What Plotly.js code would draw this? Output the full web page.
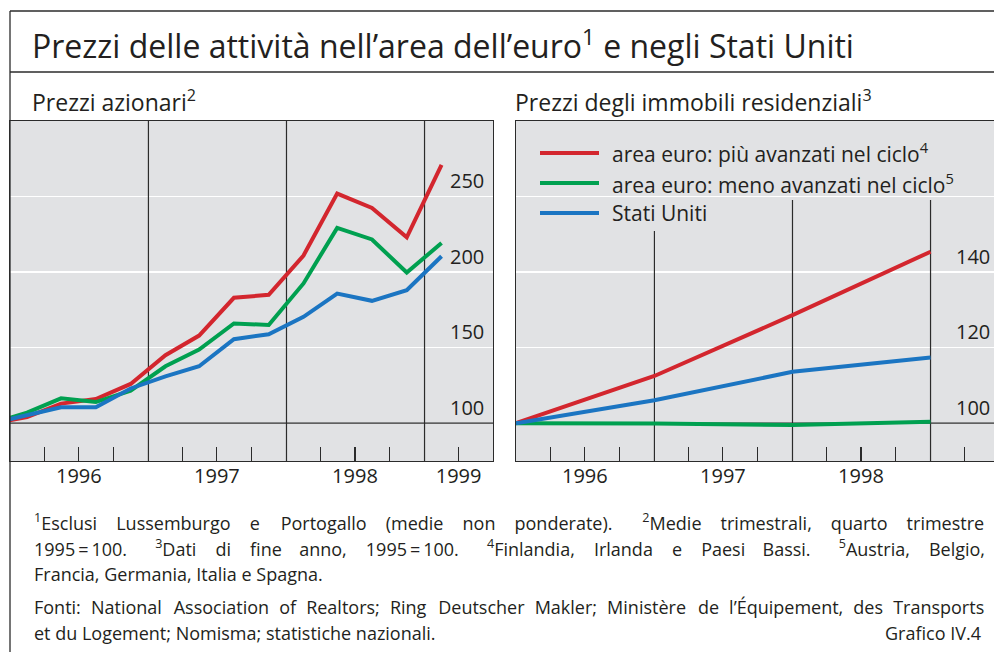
<!DOCTYPE html>
<html><head><meta charset="utf-8">
<script src="https://cdn.plot.ly/plotly-3.0.1.min.js"></script>
<style>html,body{margin:0;padding:0;overflow:hidden;background:#fff}#chart{width:1000px;height:652px}</style>
</head><body><div id="chart"></div>
<script>
// ---- Data: stock prices (quarterly averages, Q4 1995 = 100) ----
const stockQuarters = ['1995-11-15','1996-02-15','1996-05-15','1996-08-15','1996-11-15',
  '1997-02-15','1997-05-15','1997-08-15','1997-11-15',
  '1998-02-15','1998-05-15','1998-08-15','1998-11-15','1999-02-15'];
const stockEuroAdv  = [100,104,113,116,126,145,158,183,185,211,252,242.5,223,271];
const stockEuroLess = [100,107,116.5,114,121.5,137.7,148.8,166,165,192.5,229.3,221.6,199.7,219.3];
const stockUS       = [100,105.5,110.5,110.6,123,131,137.7,155.6,158.9,170.4,185.8,181,188,210.5];

// ---- Data: residential property prices (end of year, 1995 = 100) ----
const houseYears     = ['1996-01-01','1997-01-01','1998-01-01','1999-01-01']; // end 1995..end 1998
const houseEuroAdv   = [100,112.5,128.6,145.4];
const houseEuroLess  = [100,99.9,99.5,100.4];
const houseUS        = [100,106.1,113.6,117.4];
const indexBase      = 100;

// ---- Series names ----
const seriesNames = ['area euro: più avanzati nel ciclo<sup>4</sup>',
                     'area euro: meno avanzati nel ciclo<sup>5</sup>',
                     'Stati Uniti'];

// ---- Axis ticks ----
const yearBoundaries    = ['1997-01-01','1998-01-01','1999-01-01'];
const stockYearTickVals = ['1996-07-01','1997-07-01','1998-07-01','1999-04-01'];
const stockYearLabels   = ['1996','1997','1998','1999'];
const houseYearTickVals = ['1996-07-01','1997-07-01','1998-07-01'];
const houseYearLabels   = ['1996','1997','1998'];
const stockYTicks  = [100,150,200,250];
const stockYLabels = ['100','150','200','250'];
const houseYTicks  = [100,120,140,160];
const houseYLabels = ['100','120','140'];

const RED = '#d3262e', GREEN = '#00a050', BLUE = '#1b75c2';
const BG = '#e1e2e4', INK = '#231f20', FRAME = '#2b2b2b';
const FONT = '"Open Sans", Lato, sans-serif';
const XRANGE = ['1996-01-01', '1999-07-01'];
const YR1 = [75, 300], YR2 = [90, 180];

const H = 652;
const py = v => (H - v) / H;                       // pixel y -> paper
const yDom = [py(461), py(121)];
const pixToY2 = p => YR2[0] + (461 - p) / 340 * (YR2[1] - YR2[0]);

const colors = [RED, GREEN, BLUE];
const traces = [];
// structural lines first (below data): year separators and index base line
function sepTrace(xa, ya, tops, bottom) {
  const x = [], y = [];
  yearBoundaries.forEach((d, i) => { x.push(d, d, null); y.push(bottom, tops[i], null); });
  return {x, y, xaxis: xa, yaxis: ya, type: 'scatter', mode: 'lines',
    line: {color: FRAME, width: 1.2}, showlegend: false, hoverinfo: 'skip'};
}
traces.push(sepTrace('x', 'y', [YR1[1], YR1[1], YR1[1]], YR1[0]));
traces.push(sepTrace('x2', 'y2', [pixToY2(231), pixToY2(200), pixToY2(200)], YR2[0]));
[['x', 'y'], ['x2', 'y2']].forEach(([xa, ya]) => traces.push({
  x: XRANGE, y: [indexBase, indexBase], xaxis: xa, yaxis: ya, type: 'scatter', mode: 'lines',
  line: {color: FRAME, width: 1.3}, showlegend: false, hoverinfo: 'skip'}));

[stockEuroAdv, stockEuroLess, stockUS].forEach((s, i) => traces.push({
  x: stockQuarters, y: s, type: 'scatter', mode: 'lines', xaxis: 'x', yaxis: 'y',
  line: {color: colors[i], width: 4}, showlegend: false, hoverinfo: 'skip'}));
[houseEuroAdv, houseEuroLess, houseUS].forEach((s, i) => traces.push({
  x: houseYears, y: s, type: 'scatter', mode: 'lines', xaxis: 'x2', yaxis: 'y2',
  line: {color: colors[i], width: 4}, showlegend: false, hoverinfo: 'skip'}));

const commonX = {
  type: 'date', range: XRANGE, tickmode: 'array',
  ticks: 'inside', ticklen: 14, tickwidth: 1.2, tickcolor: FRAME,
  minor: {tickmode: 'linear', tick0: '1996-01-01', dtick: 'M3', ticks: 'inside', ticklen: 14,
          tickwidth: 1.2, tickcolor: FRAME, showgrid: false},
  showgrid: false, zeroline: false, showline: true, mirror: true, linecolor: FRAME, linewidth: 1.3,
  tickfont: {family: FONT, size: 20, color: INK}, ticklabelstandoff: -3, fixedrange: true
};
const commonY = {
  tickmode: 'array', side: 'right', ticks: '', showticklabels: false,
  showgrid: true, gridcolor: '#ffffff', gridwidth: 1.3, zeroline: false,
  showline: true, mirror: true, linecolor: FRAME, linewidth: 1.3, fixedrange: true
};

const layout = {
  width: 1000, height: H, margin: {l: 0, r: 0, t: 0, b: 0},
  paper_bgcolor: '#ffffff', plot_bgcolor: BG, showlegend: false,
  font: {family: FONT, color: INK},
  xaxis: Object.assign({}, commonX, {domain: [0.010, 0.493], anchor: 'y',
    tickvals: stockYearTickVals, ticktext: stockYearLabels}),
  yaxis: Object.assign({}, commonY, {domain: yDom, anchor: 'x', range: YR1, tickvals: stockYTicks}),
  xaxis2: Object.assign({}, commonX, {domain: [0.516, 0.999], anchor: 'y2',
    tickvals: houseYearTickVals, ticktext: houseYearLabels}),
  yaxis2: Object.assign({}, commonY, {domain: yDom, anchor: 'x2', range: YR2, tickvals: houseYTicks}),
  shapes: [],
  annotations: []
};

// y value labels, placed just above their gridlines at the right of each panel
function yLabels(xa, ya, vals, labels) {
  labels.forEach((t, i) => layout.annotations.push({xref: xa + ' domain', yref: ya, x: 1, y: vals[i],
    xanchor: 'right', yanchor: 'middle', xshift: -7, yshift: 16, text: t, showarrow: false,
    font: {family: FONT, size: 20, color: INK}}));
}
yLabels('x', 'y', stockYTicks, stockYLabels);
yLabels('x2', 'y2', houseYTicks, houseYLabels);

// frame
const fr = {color: FRAME, width: 1.3};
layout.shapes.push({type: 'line', xref: 'paper', yref: 'paper', x0: 0.010, x1: 1, y0: py(11), y1: py(11), line: fr});
layout.shapes.push({type: 'line', xref: 'paper', yref: 'paper', x0: 0.010, x1: 0.010, y0: 0, y1: py(11), line: fr});
layout.shapes.push({type: 'line', xref: 'paper', yref: 'paper', x0: 0.010, x1: 1, y0: py(72), y1: py(72), line: fr});

// titles
layout.annotations.push({xref: 'paper', yref: 'paper', x: 0.030, y: py(44), xanchor: 'left', yanchor: 'middle',
  text: 'Prezzi delle attività nell’area dell’euro<sup>1</sup> e negli Stati Uniti', showarrow: false,
  font: {family: FONT, size: 32, color: INK}});
layout.annotations.push({xref: 'paper', yref: 'paper', x: 0.030, y: py(101), xanchor: 'left', yanchor: 'middle',
  text: 'Prezzi azionari<sup>2</sup>', showarrow: false, font: {family: FONT, size: 23, color: INK}});
layout.annotations.push({xref: 'paper', yref: 'paper', x: 0.513, y: py(101), xanchor: 'left', yanchor: 'middle',
  text: 'Prezzi degli immobili residenziali<sup>3</sup>', showarrow: false, font: {family: FONT, size: 23, color: INK}});

// legend (custom)
const legY = [153, 183, 213];
seriesNames.forEach((n, i) => {
  layout.shapes.push({type: 'line', xref: 'paper', yref: 'paper', x0: 0.540, x1: 0.599,
    y0: py(legY[i]), y1: py(legY[i]), line: {color: colors[i], width: 4}});
  layout.annotations.push({xref: 'paper', yref: 'paper', x: 0.610, y: py(legY[i]), xanchor: 'left', yanchor: 'middle',
    text: n, showarrow: false, font: {family: FONT, size: 21, color: INK}});
});

// footnotes with justification
const ctx = document.createElement('canvas').getContext('2d');
function mw(t, size) { ctx.font = size + 'px "Open Sans"'; return ctx.measureText(t).width; }
function measure(html, size) {
  let w = 0, last = 0, m; const re = /<sup>(.*?)<\/sup>/g;
  while ((m = re.exec(html))) { w += mw(html.slice(last, m.index), size) + mw(m[1], size * 0.7); last = re.lastIndex; }
  return w + mw(html.slice(last), size);
}
function justify(html, size, target) {
  const natural = measure(html, size);
  const parts = html.split(' ');
  const gaps = parts.length - 1;
  if (natural >= target || gaps <= 0) return {text: html, size: size * Math.min(1, target / natural)};
  let pad = '\u200A', pw = mw(pad, size);
  if (!(pw > 0.3)) { pad = '\u2009'; pw = mw(pad, size); }
  if (!(pw > 0.3)) return {text: html, size};
  const extra = target - natural;
  let out = parts[0], acc = 0;
  for (let i = 1; i < parts.length; i++) {
    const n = Math.max(0, Math.round((extra * i / gaps - acc) / pw));
    acc += n * pw;
    out += ' ' + pad.repeat(n) + parts[i];
  }
  return {text: out, size};
}
const FS = 18, LINEW = 951;
const notes = [
  {t: '<sup>1</sup>Esclusi Lussemburgo e Portogallo (medie non ponderate). \u2002<sup>2</sup>Medie trimestrali, quarto trimestre', y: 522, j: true},
  {t: '1995\u2009=\u2009100. \u2002<sup>3</sup>Dati di fine anno, 1995\u2009=\u2009100. \u2002<sup>4</sup>Finlandia, Irlanda e Paesi Bassi. \u2002<sup>5</sup>Austria, Belgio,', y: 548, j: true},
  {t: 'Francia, Germania, Italia e Spagna.', y: 574, j: false},
  {t: 'Fonti: National Association of Realtors; Ring Deutscher Makler; Ministère de l’Équipement, des Transports', y: 607, j: true},
  {t: 'et du Logement; Nomisma; statistiche nazionali.', y: 633, j: false}
];
notes.forEach(n => {
  const r = n.j ? justify(n.t, FS, LINEW) : {text: n.t, size: FS};
  layout.annotations.push({xref: 'paper', yref: 'paper', x: 0.032, y: py(n.y), xanchor: 'left', yanchor: 'middle',
    text: r.text, showarrow: false, font: {family: FONT, size: r.size, color: INK}});
});
layout.annotations.push({xref: 'paper', yref: 'paper', x: 0.983, y: py(633), xanchor: 'right', yanchor: 'middle',
  text: 'Grafico IV.4', showarrow: false, font: {family: FONT, size: FS, color: INK}});

Plotly.newPlot('chart', traces, layout, {displayModeBar: false, staticPlot: true});
</script></body></html>
